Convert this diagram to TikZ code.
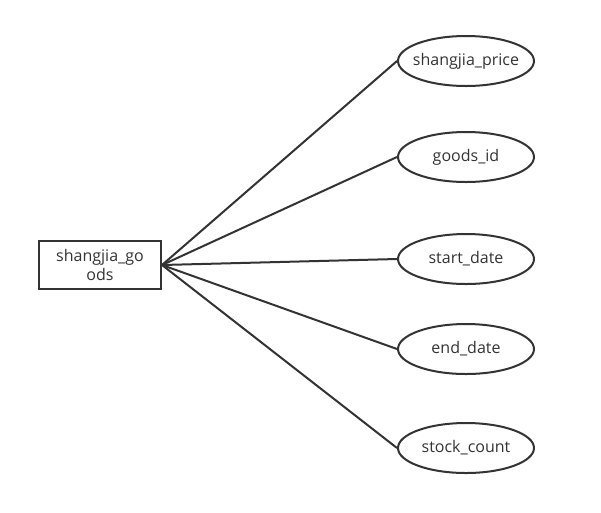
\documentclass[tikz,border=0pt]{standalone}
\usepackage{fontspec}
\setmainfont{Open Sans}
\usetikzlibrary{shapes.geometric}
\definecolor{ink}{HTML}{333333}
\newcommand{\fixw}[1]{\makebox[0pt]{#1}}
\tikzset{
  attr/.style={ellipse, draw=ink, line width=2pt, minimum width=136pt, minimum height=50pt, inner sep=0pt, text=ink, font=\fontsize{16}{19}\selectfont},
  entity/.style={rectangle, draw=ink, line width=2pt, minimum width=122pt, minimum height=48pt, inner sep=0pt, text=ink, align=center, font=\fontsize{16}{19}\selectfont},
  link/.style={draw=ink, line width=2pt}
}
\begin{document}
\begin{tikzpicture}[x=1pt,y=-1pt]
\useasboundingbox (0,0) rectangle (601,512);
\node[entity] (e) at (100,265) {shangjia\_go\\ods};
\node[attr] (a1) at (466,61) {\fixw{shangjia\_price}};
\node[attr] (a2) at (466,157) {\fixw{goods\_id}};
\node[attr] (a3) at (466,259) {\fixw{start\_date}};
\node[attr] (a4) at (466,349) {\fixw{end\_date}};
\node[attr] (a5) at (466,448) {\fixw{stock\_count}};
\foreach \t in {a1,a2,a3,a4,a5} \draw[link] (e.east) -- (\t.west);
\end{tikzpicture}
\end{document}
